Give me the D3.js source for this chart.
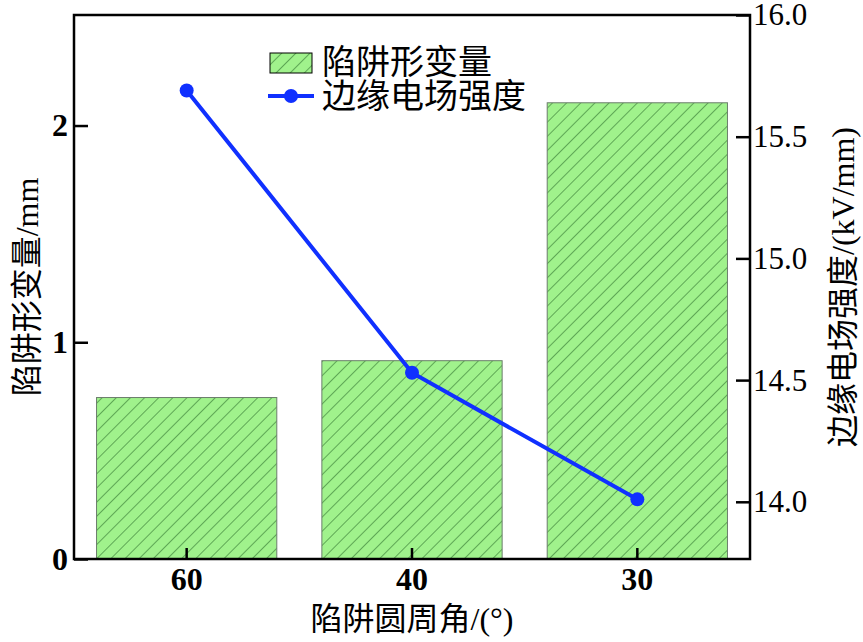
<!DOCTYPE html>
<html>
<head>
<meta charset="utf-8">
<script src="https://cdn.jsdelivr.net/npm/d3@7"></script>
<style>
  body { margin: 0; background: #fff; }
  svg text { font-family: "Liberation Serif", "Noto Sans CJK SC", serif; }
</style>
</head>
<body>
<svg width="863" height="642"></svg>
<script>
const angles = ["60", "40", "30"];
const deformation = [0.745, 0.915, 2.105];      // 陷阱形变量 /mm
const fieldStrength = [15.69, 14.53, 14.01];     // 边缘电场强度 /(kV/mm)
const leftTicks = [0, 1, 2];
const rightTicks = [14.0, 14.5, 15.0, 15.5, 16.0];

const svg = d3.select("svg");
const margin = { top: 15, right: 113, bottom: 83, left: 74 };
const W = 863, H = 642;
const innerW = W - margin.left - margin.right;
const innerH = H - margin.top - margin.bottom;

const g = svg.append("g").attr("transform", `translate(${margin.left},${margin.top})`);

const x = d3.scaleBand().domain(angles).range([0, innerW]).paddingInner(0.2).paddingOuter(0.1);
const yL = d3.scaleLinear().domain([0, 2.51]).range([innerH, 0]);
const yR = d3.scaleLinear().domain([13.765, 16]).range([innerH, 0]);

// hatch pattern
const defs = svg.append("defs");
const pat = defs.append("pattern")
  .attr("id", "hatch")
  .attr("patternUnits", "userSpaceOnUse")
  .attr("width", 10).attr("height", 10)
  .attr("patternTransform", "rotate(45)");
pat.append("rect").attr("width", 10).attr("height", 10).attr("fill", "#a0f28c");
pat.append("line").attr("x1", 0).attr("y1", 0).attr("x2", 0).attr("y2", 10)
  .attr("stroke", "#3a7f36").attr("stroke-width", 1.3);

// bars
g.selectAll(".bar")
  .data(angles)
  .enter().append("rect")
  .attr("class", "bar")
  .attr("x", d => x(d))
  .attr("width", x.bandwidth())
  .attr("y", (d, i) => yL(deformation[i]))
  .attr("height", (d, i) => innerH - yL(deformation[i]))
  .attr("fill", "url(#hatch)")
  .attr("stroke", "#6b7d6b")
  .attr("stroke-width", 1);

// frame
g.append("rect").attr("width", innerW).attr("height", innerH)
  .attr("fill", "none").attr("stroke", "#000").attr("stroke-width", 2.5);

// left axis
const axL = g.append("g").call(d3.axisLeft(yL).tickValues(leftTicks).tickSize(-14).tickFormat(d3.format("d")));
axL.select(".domain").remove();
axL.selectAll("line").attr("stroke", "#000").attr("stroke-width", 2.5);
axL.selectAll("text").attr("font-size", 32).attr("font-weight", "bold").attr("fill", "#000")
  .attr("x", -6).attr("text-anchor", "end");

// right axis
const axR = g.append("g").attr("transform", `translate(${innerW},0)`)
  .call(d3.axisRight(yR).tickValues(rightTicks).tickSize(-14).tickFormat(d3.format(".1f")));
axR.select(".domain").remove();
axR.selectAll("line").attr("stroke", "#000").attr("stroke-width", 2.5);
axR.selectAll("text").attr("font-size", 31).attr("fill", "#000").attr("x", 3);

// bottom axis
const axB = g.append("g").attr("transform", `translate(0,${innerH})`)
  .call(d3.axisBottom(x).tickSize(-11));
axB.select(".domain").remove();
axB.selectAll("line").attr("stroke", "#000").attr("stroke-width", 2.5);
axB.selectAll("text").attr("font-size", 32).attr("font-weight", "bold").attr("fill", "#000").attr("y", 8);

// line series
const cx = d => x(d) + x.bandwidth() / 2;
const line = d3.line().x(d => cx(d)).y((d, i) => yR(fieldStrength[i]));
g.append("path").datum(angles).attr("d", line)
  .attr("fill", "none").attr("stroke", "#1030ff").attr("stroke-width", 4);
g.selectAll(".pt").data(angles).enter().append("circle")
  .attr("cx", d => cx(d)).attr("cy", (d, i) => yR(fieldStrength[i]))
  .attr("r", 7).attr("fill", "#1030ff");

// axis titles
svg.append("text")
  .attr("transform", `translate(38,${margin.top + innerH / 2}) rotate(-90)`)
  .attr("text-anchor", "middle").attr("font-size", 32).text("陷阱形变量/mm");
svg.append("text")
  .attr("transform", `translate(854,${margin.top + innerH / 2}) rotate(-90)`)
  .attr("text-anchor", "middle").attr("font-size", 32).text("边缘电场强度/(kV/mm)");
svg.append("text")
  .attr("x", margin.left + innerW / 2).attr("y", 630)
  .attr("text-anchor", "middle").attr("font-size", 32).text("陷阱圆周角/(°)");

// legend
const lg = svg.append("g").attr("transform", "translate(270,50)");
lg.append("rect").attr("x", 0).attr("y", 3).attr("width", 42).attr("height", 20)
  .attr("fill", "url(#hatch)").attr("stroke", "#000").attr("stroke-width", 1);
lg.append("text").attr("x", 52).attr("y", 24).attr("font-size", 34).text("陷阱形变量");
lg.append("line").attr("x1", -2).attr("x2", 44).attr("y1", 46).attr("y2", 46)
  .attr("stroke", "#1030ff").attr("stroke-width", 4);
lg.append("circle").attr("cx", 21).attr("cy", 46).attr("r", 7).attr("fill", "#1030ff");
lg.append("text").attr("x", 52).attr("y", 58).attr("font-size", 34).text("边缘电场强度");
</script>
</body>
</html>
